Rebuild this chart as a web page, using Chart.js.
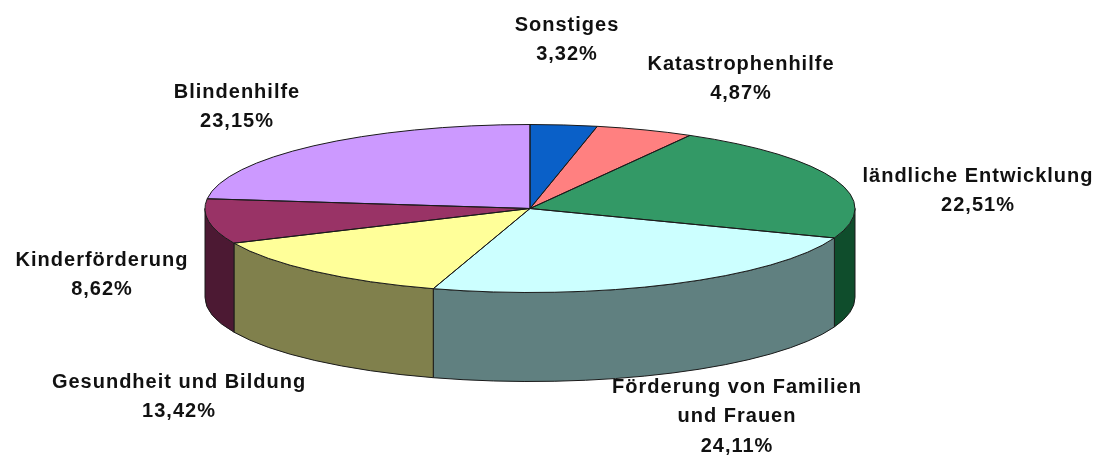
<!DOCTYPE html>
<html>
<head>
<meta charset="utf-8">
<style>
html, body { margin: 0; padding: 0; background: #fff; }
#wrap { width: 1096px; height: 455px; }
canvas { filter: blur(0.6px); }
</style>
<script src="https://cdn.jsdelivr.net/npm/chart.js@4"></script>
</head>
<body>
<div id="wrap"><canvas id="myChart"></canvas></div>
<script>
const categories = ['Sonstiges', 'Katastrophenhilfe', 'ländliche Entwicklung', 'Förderung von Familien und Frauen', 'Gesundheit und Bildung', 'Kinderförderung', 'Blindenhilfe'];
const shares = [3.32, 4.87, 22.51, 24.11, 13.42, 8.62, 23.15];
const topColors = ['#0A60C8', '#FF8080', '#339966', '#CCFFFF', '#FFFF99', '#993366', '#CC99FF'];
const sideColors = ['#053064', '#804040', '#0F4D2C', '#608080', '#80804C', '#4C1933', '#664C80'];

// label text lines and where they sit (centre x, middle y of first line)
const labelLines = [
    ['Sonstiges', '3,32%'],
    ['Katastrophenhilfe', '4,87%'],
    ['ländliche Entwicklung', '22,51%'],
    ['Förderung von Familien', 'und Frauen', '24,11%'],
    ['Gesundheit und Bildung', '13,42%'],
    ['Kinderförderung', '8,62%'],
    ['Blindenhilfe', '23,15%']
];
const labelX = [567, 741, 978, 737, 179, 102, 237];
const labelY = [25, 64, 176, 387, 382, 260, 92];
const lineGap = 29.5;

const squash = 84 / 325;
const depth = 89;

function sectorPath(ctx, arc) {
    const ry = arc.outerRadius * squash;
    ctx.beginPath();
    ctx.moveTo(arc.x, arc.y);
    ctx.ellipse(arc.x, arc.y, arc.outerRadius, ry, 0, arc.startAngle, arc.endAngle);
    ctx.closePath();
}

const pie3d = {
    id: 'pie3d',
    // the wall of the disc, only the front half shows
    beforeDatasetsDraw(chart) {
        const ctx = chart.ctx;
        chart.getDatasetMeta(0).data.forEach(function (arc, i) {
            const a0 = Math.max(arc.startAngle, 0);
            const a1 = Math.min(arc.endAngle, Math.PI);
            if (a1 <= a0) return;
            const ry = arc.outerRadius * squash;
            ctx.beginPath();
            ctx.ellipse(arc.x, arc.y, arc.outerRadius, ry, 0, a0, a1);
            ctx.ellipse(arc.x, arc.y + depth, arc.outerRadius, ry, 0, a1, a0, true);
            ctx.closePath();
            ctx.fillStyle = sideColors[i];
            ctx.fill();
            ctx.strokeStyle = '#1a1a1a';
            ctx.lineWidth = 1;
            ctx.stroke();
        });
    },
    beforeDatasetDraw(chart) {
        const arc = chart.getDatasetMeta(0).data[0];
        const ctx = chart.ctx;
        ctx.save();
        ctx.translate(arc.x, arc.y);
        ctx.scale(1, squash);
        ctx.translate(-arc.x, -arc.y);
    },
    afterDatasetDraw(chart) {
        chart.ctx.restore();
    },
    afterDatasetsDraw(chart) {
        const ctx = chart.ctx;
        chart.getDatasetMeta(0).data.forEach(function (arc) {
            sectorPath(ctx, arc);
            ctx.strokeStyle = '#1a1a1a';
            ctx.lineWidth = 1;
            ctx.stroke();
        });
        ctx.save();
        ctx.fillStyle = '#111';
        ctx.font = 'bold 20px "Liberation Sans", Arial, sans-serif';
        ctx.letterSpacing = '1px';
        ctx.textAlign = 'center';
        ctx.textBaseline = 'middle';
        labelLines.forEach(function (lines, i) {
            lines.forEach(function (line, j) {
                ctx.fillText(line, labelX[i], labelY[i] + j * lineGap);
            });
        });
        ctx.restore();
    }
};

const ctx = document.getElementById('myChart').getContext('2d');
const myChart = new Chart(ctx, {
    type: 'pie',
    data: {
        labels: categories,
        datasets: [{
            data: shares,
            backgroundColor: topColors,
            borderWidth: 0,
            clip: false
        }]
    },
    options: {
        responsive: true,
        maintainAspectRatio: false,
        animation: false,
        radius: 325,
        layout: { padding: { right: 36, bottom: 38 } },
        plugins: {
            legend: { display: false },
            tooltip: { enabled: false }
        }
    },
    plugins: [pie3d]
});
</script>
</body>
</html>
